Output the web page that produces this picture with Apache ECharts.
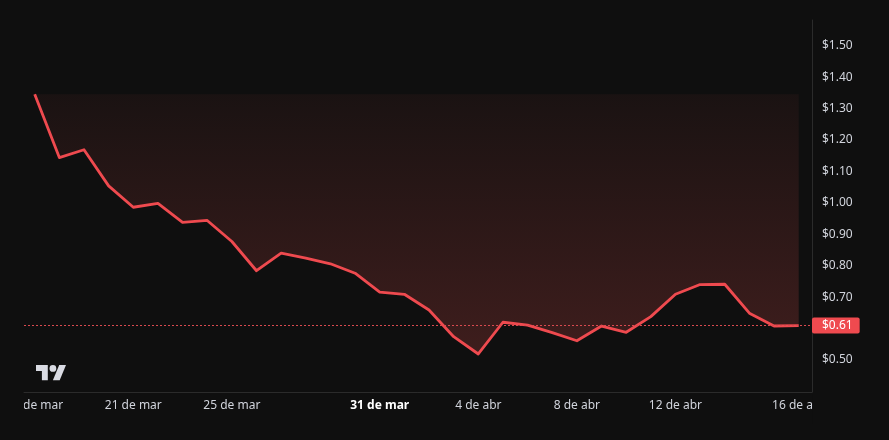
<!DOCTYPE html>
<html><head><meta charset="utf-8">
<script src="https://cdn.jsdelivr.net/npm/echarts@6/dist/echarts.min.js"></script>
<style>html,body{margin:0;padding:0;background:#0f0f0f;}#c{width:889px;height:440px;}</style>
</head><body><div id="c"></div>
<script>
const dates = ['17 mar','18 mar','19 mar','20 mar','21 mar','22 mar','23 mar','24 mar','25 mar','26 mar','27 mar','28 mar','29 mar','30 mar','31 mar',
  '1 abr','2 abr','3 abr','4 abr','5 abr','6 abr','7 abr','8 abr','9 abr','10 abr','11 abr','12 abr','13 abr','14 abr','15 abr','16 abr','17 abr'];
const prices = [1.346,1.144,1.169,1.054,0.986,0.998,0.938,0.944,0.877,0.784,0.840,0.824,0.806,0.776,0.716,
  0.709,0.659,0.574,0.519,0.620,0.611,0.587,0.561,0.608,0.588,0.638,0.709,0.740,0.741,0.649,0.608,0.609];
const xTickIndex = [0,4,8,14,18,22,26,31];
const xTickLabels = ['17 de mar','21 de mar','25 de mar','31 de mar','4 de abr','8 de abr','12 de abr','16 de abr'];
const boldTick = '31 de mar';
const yTicks = [0.5,0.6,0.7,0.8,0.9,1.0,1.1,1.2,1.3,1.4,1.5];

const FONT = '"Noto Sans", Roboto, sans-serif';
const BG = '#0f0f0f';
const RED = '#ef4a4f';
const lastPrice = prices[prices.length-1];

const chart = echarts.init(document.getElementById('c'), null, {renderer:'canvas'});
chart.setOption({
  backgroundColor: BG,
  animation: false,
  grid: {left:24, right:77, top:20, bottom:48, containLabel:false},
  xAxis: {
    type:'value', min:-0.434, max:31.54,
    axisLine:{show:true, onZero:false, lineStyle:{color:'#2b2b2b', width:1}},
    axisTick:{show:false}, splitLine:{show:false},
    axisLabel:{
      customValues: xTickIndex,
      margin:8, color:'#d1d4dc', fontSize:12, fontFamily:FONT,
      formatter:(v)=>{ const k = xTickIndex.indexOf(Math.round(v)); const t = k>=0 ? xTickLabels[k] : ''; return t===boldTick ? '{b|'+t+'}' : t; },
      rich:{b:{fontWeight:'bold', color:'#ffffff', fontSize:12, fontFamily:FONT}}
    }
  },
  yAxis: {
    type:'value', position:'right', min:0.398, max:1.582,
    axisLine:{show:true, onZero:false, lineStyle:{color:'#2b2b2b', width:1}},
    axisTick:{show:false}, splitLine:{show:false},
    axisLabel:{customValues: yTicks, margin:10, color:'#d1d4dc', fontSize:12, fontFamily:FONT,
      formatter:(v)=>'$'+v.toFixed(2)}
  },
  series: [{
    type:'line', name:'price',
    data: prices.map((v,i)=>[i,v]),
    symbol:'none', smooth:false,
    lineStyle:{color:RED, width:2.8, join:'round'},
    areaStyle:{origin: prices[0], color: new echarts.graphic.LinearGradient(0,0,0,1,[
      {offset:0, color:'rgba(239,83,80,0.07)'},
      {offset:1, color:'rgba(239,83,80,0.30)'}])},
    markLine:{
      silent:true, symbol:'none',
      data:[{yAxis:lastPrice}],
      lineStyle:{type:[2,2], color:'#d9494f', width:1},
      label:{position:'end', distance:0, formatter:(p)=>'$'+p.value.toFixed(2),
        backgroundColor:RED, color:'#ffffff', padding:[2,7,2,10], borderRadius:2,
        fontSize:12, fontFamily:FONT, lineHeight:12},
      emphasis:{disabled:true}
    }
  }],
  graphic: [
    {type:'rect', shape:{x:0, y:394, width:24, height:30}, style:{fill:BG}, z:100},
    {type:'rect', shape:{x:812.5, y:394, width:77, height:30}, style:{fill:BG}, z:100},
    {type:'polygon', shape:{points:[[36,365],[47.8,365],[47.8,380.2],[41.9,380.2],[41.9,370.9],[36,370.9]]}, style:{fill:'#d9dbe3'}, z:100},
    {type:'circle', shape:{cx:52.9, cy:368.4, r:3.4}, style:{fill:'#d9dbe3'}, z:100},
    {type:'polygon', shape:{points:[[52.9,380.2],[59.2,365],[66,365],[59.7,380.2]]}, style:{fill:'#d9dbe3'}, z:100}
  ]
});
</script></body></html>
